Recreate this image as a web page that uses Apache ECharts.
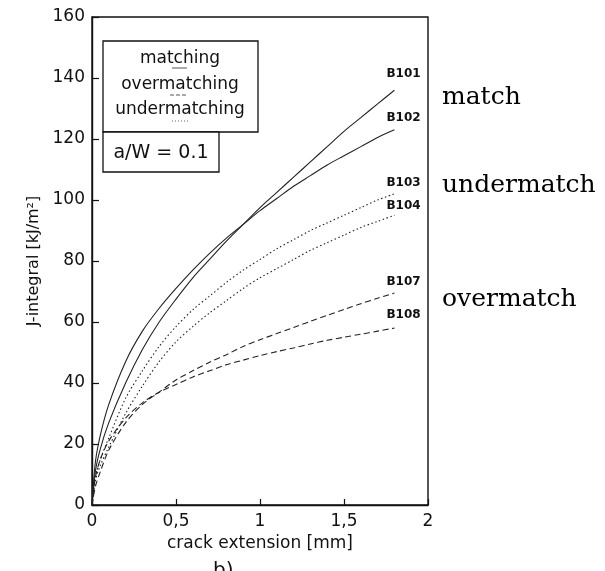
<!DOCTYPE html>
<html>
<head>
<meta charset="utf-8">
<script src="https://cdn.jsdelivr.net/npm/echarts/dist/echarts.min.js"></script>
<style>
html,body{margin:0;padding:0;background:#ffffff;}
#chart{width:605px;height:571px;}
</style>
</head>
<body>
<div id="chart"></div>
<script>
// ---- data ----
const crackExt = [0, 0.02, 0.05, 0.1, 0.2, 0.3, 0.4, 0.5, 0.6, 0.7, 0.8, 0.9, 1.0, 1.1, 1.2, 1.3, 1.4, 1.5, 1.6, 1.7, 1.8];
const B101 = [0, 11, 18.5, 27, 40, 51, 60, 67.5, 74.5, 80.5, 86.5, 92, 97.5, 102.5, 107.5, 112.5, 117.5, 122.5, 127, 131.5, 136];
const B102 = [0, 14, 23, 33, 47, 57, 64.5, 71, 77, 82.5, 87.5, 92, 96.5, 100.5, 104.5, 108, 111.5, 114.5, 117.5, 120.5, 123];
const B103 = [0, 9, 15, 22, 35, 44, 52, 58.5, 64, 68.5, 73, 77, 80.5, 84, 87, 90, 92.5, 95, 97.5, 100, 102];
const B104 = [0, 8, 13, 19, 30, 39, 47, 53.5, 58.5, 63, 67, 71, 74.5, 77.5, 80.5, 83.5, 86, 88.5, 91, 93, 95];
const B107 = [0, 6, 11, 18, 27, 33, 37, 41, 44, 46.8, 49.3, 52, 54.2, 56.2, 58.2, 60.2, 62.2, 64.1, 66, 67.8, 69.5];
const B108 = [0, 9, 15, 21, 28.5, 33.5, 37, 39.5, 42, 44, 46, 47.5, 49, 50.3, 51.5, 52.8, 54, 55, 56, 57, 58];
const seriesNames = ['B101', 'B102', 'B103', 'B104', 'B107', 'B108'];
const seriesValues = [B101, B102, B103, B104, B107, B108];
const xTicks = [0, 0.5, 1, 1.5, 2];
const yTicks = [0, 20, 40, 60, 80, 100, 120, 140, 160];
const legendLines = ['matching', 'overmatching', 'undermatching'];
const ratioText = 'a/W = 0.1';
const sideNotes = ['match', 'undermatch', 'overmatch'];
const xName = 'crack extension [mm]';
const yName = 'J-integral [kJ/m²]';

// ---- styles ----
const ink = '#111111';
const lineTypes = ['solid', 'solid', [1.5, 2.5], [1.5, 2.5], [6, 3.5], [6, 3.5]];
const labelDy = [-16, -12, -11, -9, -11, -13];
const sansFont = 'DejaVu Sans';

const chart = echarts.init(document.getElementById('chart'), null, {renderer: 'canvas'});

const series = seriesNames.map((name, i) => ({
  name: name,
  type: 'line',
  data: crackExt.map((x, j) => [x, seriesValues[i][j]]),
  showSymbol: false,
  symbol: 'none',
  smooth: 0.3,
  lineStyle: {color: '#222', width: 1.1, type: lineTypes[i]},
  endLabel: {
    show: true,
    formatter: name,
    distance: 0,
    offset: [-8, labelDy[i]],
    color: ink,
    fontSize: 12,
    fontWeight: 'bold',
    fontFamily: sansFont
  },
  emphasis: {disabled: true},
  silent: true
}));

const option = {
  animation: false,
  backgroundColor: '#ffffff',
  grid: {left: 92, right: 177, top: 17, bottom: 66, show: true, borderColor: ink, borderWidth: 1.4, backgroundColor: 'transparent'},
  xAxis: {
    type: 'value', min: xTicks[0], max: xTicks[xTicks.length - 1], interval: xTicks[1] - xTicks[0],
    axisLine: {show: true, lineStyle: {color: ink, width: 1.4}},
    axisTick: {show: true, inside: true, length: 6, lineStyle: {color: ink, width: 1.2}},
    axisLabel: {color: ink, fontSize: 17, fontFamily: sansFont, margin: 8,
      formatter: v => String(v).replace('.', ',')},
    splitLine: {show: false},
    name: xName, nameLocation: 'middle', nameGap: 30,
    nameTextStyle: {color: ink, fontSize: 17, fontFamily: sansFont}
  },
  yAxis: {
    type: 'value', min: yTicks[0], max: yTicks[yTicks.length - 1], interval: yTicks[1] - yTicks[0],
    axisLine: {show: true, lineStyle: {color: ink, width: 1.4}},
    axisTick: {show: true, inside: true, length: 7, lineStyle: {color: ink, width: 1.2}},
    axisLabel: {color: ink, fontSize: 17, fontFamily: sansFont, margin: 7},
    splitLine: {show: false},
    name: yName, nameLocation: 'middle', nameGap: 50, nameRotate: 90,
    nameTextStyle: {color: ink, fontSize: 16, fontFamily: sansFont}
  },
  series: series,
  graphic: [
    {type: 'rect', shape: {x: 103, y: 41, width: 155, height: 91}, style: {fill: '#fff', stroke: ink, lineWidth: 1.3}, z: 10},
    {type: 'rect', shape: {x: 103, y: 132, width: 116, height: 40}, style: {fill: '#fff', stroke: ink, lineWidth: 1.3}, z: 10},
    {type: 'text', x: 180, y: 59, style: {text: legendLines[0], fill: ink, font: '17px "DejaVu Sans"', align: 'center', verticalAlign: 'middle'}, z: 11},
    {type: 'text', x: 180, y: 85, style: {text: legendLines[1], fill: ink, font: '17px "DejaVu Sans"', align: 'center', verticalAlign: 'middle'}, z: 11},
    {type: 'text', x: 180, y: 110, style: {text: legendLines[2], fill: ink, font: '17px "DejaVu Sans"', align: 'center', verticalAlign: 'middle'}, z: 11},
    {type: 'line', shape: {x1: 172, y1: 68, x2: 187, y2: 68}, style: {stroke: '#555', lineWidth: 1}, z: 11},
    {type: 'line', shape: {x1: 170, y1: 95, x2: 188, y2: 95}, style: {stroke: '#555', lineWidth: 1, lineDash: [4, 2]}, z: 11},
    {type: 'line', shape: {x1: 172, y1: 121, x2: 190, y2: 121}, style: {stroke: '#666', lineWidth: 1, lineDash: [1, 2]}, z: 11},
    {type: 'text', x: 161, y: 153, style: {text: ratioText, fill: ink, font: '19px "DejaVu Sans"', align: 'center', verticalAlign: 'middle'}, z: 11},
    {type: 'text', x: 442, y: 97, style: {text: sideNotes[0], fill: '#000', font: '25px "DejaVu Serif"', align: 'left', verticalAlign: 'middle'}},
    {type: 'text', x: 442, y: 185, style: {text: sideNotes[1], fill: '#000', font: '25px "DejaVu Serif"', align: 'left', verticalAlign: 'middle'}},
    {type: 'text', x: 442, y: 299, style: {text: sideNotes[2], fill: '#000', font: '25px "DejaVu Serif"', align: 'left', verticalAlign: 'middle'}},
    {type: 'text', x: 213, y: 561, style: {text: 'b)', fill: ink, font: '20px "DejaVu Sans"', align: 'left', verticalAlign: 'top'}}
  ]
};
chart.setOption(option);
</script>
</body>
</html>
